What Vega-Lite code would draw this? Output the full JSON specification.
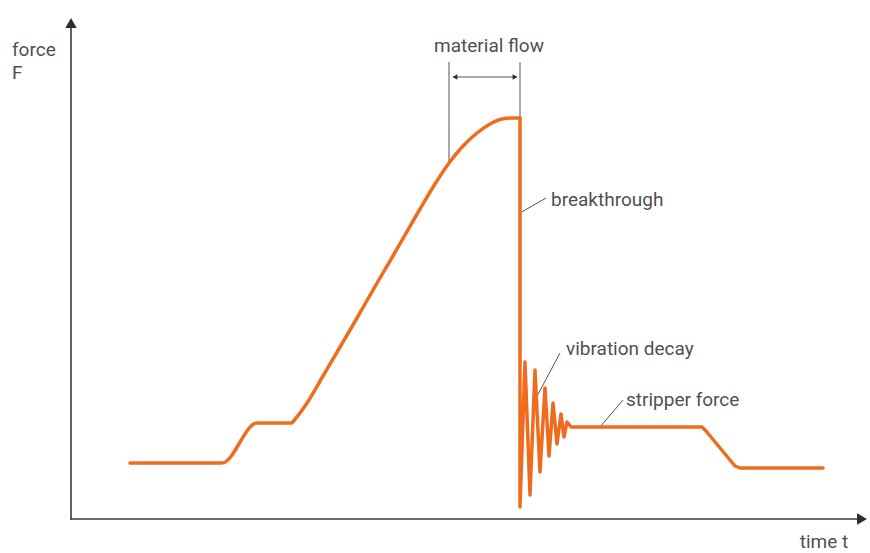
{
  "$schema": "https://vega.github.io/schema/vega-lite/v6.json",
  "width": 870,
  "height": 553,
  "padding": 0,
  "autosize": {"type": "none"},
  "background": "white",
  "config": {"view": {"stroke": null}},
  "datasets": {
    "rise": [
      {"order": 1, "time": 130, "force": 90},
      {"order": 2, "time": 222, "force": 90},
      {"order": 3, "time": 257, "force": 130},
      {"order": 4, "time": 291, "force": 130},
      {"order": 5, "time": 296, "force": 135},
      {"order": 6, "time": 307, "force": 150},
      {"order": 7, "time": 323, "force": 177},
      {"order": 8, "time": 340, "force": 206},
      {"order": 9, "time": 357, "force": 235},
      {"order": 10, "time": 373, "force": 263},
      {"order": 11, "time": 390, "force": 292},
      {"order": 12, "time": 405, "force": 318},
      {"order": 13, "time": 420, "force": 344},
      {"order": 14, "time": 435, "force": 369},
      {"order": 15, "time": 449, "force": 390},
      {"order": 16, "time": 463, "force": 407},
      {"order": 17, "time": 477, "force": 420},
      {"order": 18, "time": 490, "force": 429},
      {"order": 19, "time": 502, "force": 434},
      {"order": 20, "time": 512, "force": 435},
      {"order": 21, "time": 520, "force": 435}
    ],
    "drop": [
      {"order": 1, "time": 520, "force": 435},
      {"order": 2, "time": 520, "force": 46},
      {"order": 3, "time": 525, "force": 191},
      {"order": 4, "time": 530, "force": 58},
      {"order": 5, "time": 535, "force": 183},
      {"order": 6, "time": 540, "force": 81},
      {"order": 7, "time": 545, "force": 165},
      {"order": 8, "time": 549, "force": 97},
      {"order": 9, "time": 553, "force": 150},
      {"order": 10, "time": 557, "force": 109},
      {"order": 11, "time": 561, "force": 139},
      {"order": 12, "time": 564, "force": 116},
      {"order": 13, "time": 567, "force": 131},
      {"order": 14, "time": 571, "force": 126},
      {"order": 15, "time": 702, "force": 126},
      {"order": 16, "time": 706, "force": 122},
      {"order": 17, "time": 735, "force": 87},
      {"order": 18, "time": 740, "force": 85},
      {"order": 19, "time": 823, "force": 85}
    ],
    "axes": [
      {"x": 71, "y": 33, "x2": 71, "y2": 528},
      {"x": 71, "y": 34, "x2": 860, "y2": 34}
    ],
    "leaders": [
      {"x": 449, "y": 491, "x2": 449, "y2": 390},
      {"x": 520, "y": 491, "x2": 520, "y2": 435},
      {"x": 453, "y": 476, "x2": 517, "y2": 476},
      {"x": 520, "y": 340, "x2": 546, "y2": 355},
      {"x": 535, "y": 153, "x2": 560, "y2": 200},
      {"x": 600, "y": 126, "x2": 623, "y2": 153}
    ],
    "heads": [
      {"x": 71, "y": 530, "shape": "triangle-up", "size": 130},
      {"x": 862, "y": 34, "shape": "triangle-right", "size": 130},
      {"x": 455, "y": 476, "shape": "triangle-left", "size": 30},
      {"x": 515, "y": 476, "shape": "triangle-right", "size": 30}
    ],
    "leftLabels": [
      {"label": "force", "x": 12, "y": 503},
      {"label": "F", "x": 12, "y": 480},
      {"label": "breakthrough", "x": 551, "y": 353},
      {"label": "vibration decay", "x": 566, "y": 204},
      {"label": "stripper force", "x": 626, "y": 153}
    ],
    "centerLabels": [
      {"label": "material flow", "x": 489, "y": 507},
      {"label": "time t", "x": 824, "y": 11}
    ]
  },
  "layer": [
    {
      "data": {"name": "axes"},
      "mark": {"type": "rule", "color": "#3c3c3c", "strokeWidth": 1.6},
      "encoding": {
        "x": {"field": "x", "type": "quantitative", "scale": {"domain": [0, 870], "nice": false, "zero": false}, "axis": null},
        "y": {"field": "y", "type": "quantitative", "scale": {"domain": [0, 553], "nice": false, "zero": false}, "axis": null},
        "x2": {"field": "x2"},
        "y2": {"field": "y2"}
      }
    },
    {
      "data": {"name": "leaders"},
      "mark": {"type": "rule", "color": "#555555", "strokeWidth": 1},
      "encoding": {
        "x": {"field": "x", "type": "quantitative", "scale": {"domain": [0, 870], "nice": false, "zero": false}, "axis": null},
        "y": {"field": "y", "type": "quantitative", "scale": {"domain": [0, 553], "nice": false, "zero": false}, "axis": null},
        "x2": {"field": "x2"},
        "y2": {"field": "y2"}
      }
    },
    {
      "data": {"name": "rise"},
      "mark": {"type": "line", "color": "#ef6c1f", "strokeWidth": 3.5, "strokeJoin": "round", "strokeCap": "round", "interpolate": "monotone"},
      "encoding": {
        "x": {"field": "time", "type": "quantitative", "scale": {"domain": [0, 870], "nice": false, "zero": false}, "axis": null},
        "y": {"field": "force", "type": "quantitative", "scale": {"domain": [0, 553], "nice": false, "zero": false}, "axis": null},
        "order": {"field": "order", "type": "quantitative"}
      }
    },
    {
      "data": {"name": "drop"},
      "mark": {"type": "line", "color": "#ef6c1f", "strokeWidth": 3.5, "strokeJoin": "round", "strokeCap": "round"},
      "encoding": {
        "x": {"field": "time", "type": "quantitative", "scale": {"domain": [0, 870], "nice": false, "zero": false}, "axis": null},
        "y": {"field": "force", "type": "quantitative", "scale": {"domain": [0, 553], "nice": false, "zero": false}, "axis": null},
        "order": {"field": "order", "type": "quantitative"}
      }
    },
    {
      "data": {"name": "heads"},
      "mark": {"type": "point", "filled": true, "color": "#2c2c2c", "opacity": 1},
      "encoding": {
        "x": {"field": "x", "type": "quantitative", "scale": {"domain": [0, 870], "nice": false, "zero": false}, "axis": null},
        "y": {"field": "y", "type": "quantitative", "scale": {"domain": [0, 553], "nice": false, "zero": false}, "axis": null},
        "shape": {"field": "shape", "type": "nominal", "scale": null, "legend": null},
        "size": {"field": "size", "type": "quantitative", "scale": null, "legend": null}
      }
    },
    {
      "data": {"name": "leftLabels"},
      "mark": {"type": "text", "font": "Roboto", "fontSize": 19, "color": "#505050", "baseline": "middle", "align": "left"},
      "encoding": {
        "x": {"field": "x", "type": "quantitative", "scale": {"domain": [0, 870], "nice": false, "zero": false}, "axis": null},
        "y": {"field": "y", "type": "quantitative", "scale": {"domain": [0, 553], "nice": false, "zero": false}, "axis": null},
        "text": {"field": "label"}
      }
    },
    {
      "data": {"name": "centerLabels"},
      "mark": {"type": "text", "font": "Roboto", "fontSize": 19, "color": "#505050", "baseline": "middle", "align": "center"},
      "encoding": {
        "x": {"field": "x", "type": "quantitative", "scale": {"domain": [0, 870], "nice": false, "zero": false}, "axis": null},
        "y": {"field": "y", "type": "quantitative", "scale": {"domain": [0, 553], "nice": false, "zero": false}, "axis": null},
        "text": {"field": "label"}
      }
    }
  ]
}
